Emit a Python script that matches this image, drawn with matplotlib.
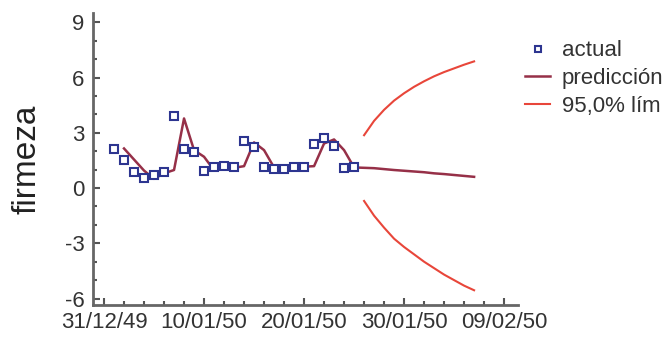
import datetime as dt
import matplotlib
matplotlib.use("Agg")
import matplotlib.pyplot as plt
import matplotlib.dates as mdates
from matplotlib.ticker import MultipleLocator

plt.rcParams['font.family'] = ['Liberation Sans', 'DejaVu Sans']
plt.rcParams['axes.unicode_minus'] = False

start = dt.datetime(1949, 12, 31)

# observed values, days 1..25 after 31/12/49
actual_days = list(range(1, 26))
actual = [2.11, 1.52, 0.87, 0.52, 0.70, 0.88, 3.90, 2.11, 1.95, 0.94,
          1.12, 1.19, 1.17, 2.53, 2.24, 1.17, 1.03, 1.01, 1.17, 1.17,
          2.38, 2.71, 2.28, 1.10, 1.17]

# fitted + forecast, days 2..37
pred_days = list(range(2, 38))
pred = [2.15, 1.55, 0.95, 0.50, 0.80, 0.98, 3.78, 2.06, 1.70, 0.97,
        1.03, 1.10, 1.19, 2.48, 2.06, 1.12, 1.06, 1.12, 1.16, 1.19,
        2.42, 2.64, 2.06, 1.12, 1.10, 1.08, 1.03, 0.98, 0.94, 0.90,
        0.86, 0.80, 0.76, 0.71, 0.66, 0.61]

# 95% limits, days 26..37
lim_days = list(range(26, 38))
upper = [2.87, 3.65, 4.25, 4.75, 5.15, 5.50, 5.80, 6.07, 6.30, 6.50, 6.70, 6.88]
lower = [-0.70, -1.50, -2.15, -2.75, -3.20, -3.60, -4.00, -4.35, -4.70, -5.00, -5.30, -5.55]

to_dates = lambda days: [start + dt.timedelta(days=d) for d in days]

fig = plt.figure(figsize=(6.72, 3.37), dpi=100)
ax = fig.add_axes([0.1384, 0.095, 0.771 - 0.1384, 0.866])

ax.plot(to_dates(pred_days), pred, color='#963048', lw=1.8, label='predicción', zorder=2)
ax.plot(to_dates(lim_days), upper, color='#e8463a', lw=1.5, label='95,0% lím', zorder=2)
ax.plot(to_dates(lim_days), lower, color='#e8463a', lw=1.5, zorder=2)
ax.plot(to_dates(actual_days), actual, ls='none', marker='s', ms=5.5, mfc='white',
        mec='#2d3590', mew=1.5, label='actual', zorder=3)

ax.set_xlim(start - dt.timedelta(days=1.1), start + dt.timedelta(days=41.4))
ax.set_ylim(-6.35, 9.5)

ax.xaxis.set_major_formatter(mdates.DateFormatter('%d/%m/%y'))
ax.set_xticks(to_dates([0, 10, 20, 30, 40]))
ax.set_xticks(to_dates(range(0, 42, 2)), minor=True)

ax.yaxis.set_major_locator(MultipleLocator(3))
ax.yaxis.set_minor_locator(MultipleLocator(1))

for s in ['top', 'right']:
    ax.spines[s].set_visible(False)
for s in ['left', 'bottom']:
    ax.spines[s].set_color('#666666')
    ax.spines[s].set_linewidth(2)

ax.tick_params(which='both', direction='in', colors='#555555', labelcolor='#333333',
               labelsize=16, width=1.5)
ax.tick_params(which='major', length=5)
ax.tick_params(which='minor', length=3)
ax.tick_params(axis='y', pad=6)
ax.tick_params(axis='x', pad=5)

ax.set_ylabel('firmeza', fontsize=24, color='#222222', labelpad=16)

h, l = ax.get_legend_handles_labels()
order = [2, 0, 1]
leg = ax.legend([h[i] for i in order], [l[i] for i in order], loc='upper left',
                bbox_to_anchor=(0.97, 0.975), frameon=False, fontsize=16,
                handlelength=1.1, handletextpad=0.55, labelspacing=0.3,
                markerscale=0.7, labelcolor='#333333')

fig.savefig('out.png', dpi=100)
